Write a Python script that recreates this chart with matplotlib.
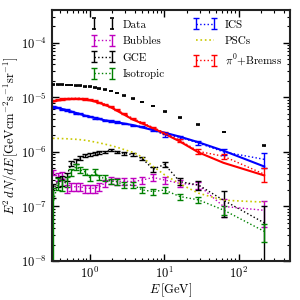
import matplotlib
matplotlib.use("Agg")
import matplotlib.pyplot as plt
import numpy as np

plt.rcParams.update({
    "font.family": "serif",
    "font.serif": ["cmr10"],
    "mathtext.fontset": "cm",
    "axes.formatter.use_mathtext": True,
    "font.size": 9,
    "xtick.direction": "in",
    "ytick.direction": "in",
    "xtick.top": True,
    "ytick.right": True,
})

# energy bin centres [GeV]
energy = [0.32, 0.37, 0.43, 0.49, 0.56, 0.65, 0.75, 0.87, 1.0, 1.16, 1.35, 1.58,
          1.9, 2.3, 2.9, 3.8, 5.1, 7.1, 10.1, 16.2, 28.8, 62.5, 220]

# measured flux
data = [1.70e-5, 1.70e-5, 1.70e-5, 1.69e-5, 1.68e-5, 1.66e-5, 1.63e-5, 1.60e-5,
        1.56e-5, 1.52e-5, 1.47e-5, 1.40e-5, 1.30e-5, 1.20e-5, 1.08e-5, 9.5e-6,
        8.2e-6, 6.9e-6, 5.5e-6, 4.25e-6, 3.2e-6, 2.3e-6, 1.3e-6]
data_rel = [0.015] * 23

# fitted components
bubbles = [4.2e-7, 3.5e-7, 3.75e-7, 2.15e-7, 2.3e-7, 2.3e-7, 2.3e-7, 2.15e-7,
           2.15e-7, 2.15e-7, 2.3e-7, 2.65e-7, 3.05e-7, 2.85e-7, 2.9e-7, 2.85e-7,
           3.05e-7, 3.4e-7, 3.05e-7, 2.65e-7, 2.47e-7, 1.0e-7, 8.5e-8]
bubbles_rel = [0.1, 0.15, 0.15, 0.17, 0.17, 0.17, 0.17, 0.17, 0.17, 0.17, 0.15,
               0.15, 0.15, 0.15, 0.15, 0.15, 0.15, 0.15, 0.15, 0.15, 0.15, 0.35, 0.5]

gce = [2.0e-7, 2.85e-7, 3.0e-7, 3.5e-7, 6.1e-7, 6.6e-7, 7.8e-7, 8.7e-7,
       9.0e-7, 9.35e-7, 9.8e-7, 1.0e-6, 1.07e-6, 1.0e-6, 9.35e-7, 8.9e-7,
       7.5e-7, 4.8e-7, 5.9e-7, 2.85e-7, 2.47e-7, 1.3e-7, 5.0e-8]
gce_rel = [0.3, 0.2, 0.2, 0.18, 0.1, 0.1, 0.08, 0.07, 0.06, 0.06, 0.05, 0.05,
           0.05, 0.05, 0.05, 0.06, 0.07, 0.1, 0.12, 0.15, 0.18, 0.5, 1.0]

isotropic = [1.1e-7, 2.65e-7, 2.47e-7, 2.85e-7, 4.3e-7, 5.3e-7, 4.65e-7, 4.3e-7,
             3.4e-7, 4.3e-7, 3.4e-7, 3.3e-7, 2.9e-7, 2.85e-7, 2.47e-7, 2.47e-7,
             2.0e-7, 1.88e-7, 2.0e-7, 1.52e-7, 1.32e-7, 8.6e-8, 3.5e-8]
isotropic_rel = [1.0, 0.25, 0.22, 0.2, 0.15, 0.13, 0.13, 0.13, 0.13, 0.12, 0.12,
                 0.12, 0.12, 0.12, 0.12, 0.12, 0.12, 0.12, 0.12, 0.12, 0.12, 0.2, 0.35]

ics = [6.6e-6, 6.5e-6, 6.0e-6, 5.9e-6, 5.5e-6, 5.1e-6, 5.0e-6, 4.6e-6, 4.5e-6,
       4.2e-6, 4.1e-6, 3.8e-6, 3.7e-6, 3.5e-6, 3.3e-6, 3.05e-6, 2.9e-6, 2.5e-6,
       2.05e-6, 1.85e-6, 1.45e-6, 1.0e-6, 7.3e-7]
ics_rel = [0.03] * 17 + [0.05, 0.07, 0.07, 0.09, 0.12, 0.3]

pion = [8.6e-6, 9.0e-6, 9.3e-6, 9.5e-6, 9.6e-6, 9.6e-6, 9.6e-6, 9.3e-6, 9.0e-6,
        8.6e-6, 8.1e-6, 7.5e-6, 6.8e-6, 5.9e-6, 5.0e-6, 4.1e-6, 3.4e-6, 2.8e-6,
        2.25e-6, 1.63e-6, 1.02e-6, 8.3e-7, 3.9e-7]
pion_rel = [0.025] * 17 + [0.04, 0.05, 0.07, 0.09, 0.12, 0.28]

pscs = [1.77e-6, 1.76e-6, 1.75e-6, 1.74e-6, 1.72e-6, 1.70e-6, 1.67e-6, 1.63e-6,
        1.58e-6, 1.52e-6, 1.46e-6, 1.39e-6, 1.31e-6, 1.22e-6, 1.10e-6, 9.8e-7,
        8.0e-7, 5.4e-7, 3.8e-7, 2.6e-7, 1.75e-7, 1.3e-7, 1.2e-7]

# model curves
ics_model = [6.7e-6, 6.4e-6, 6.1e-6, 5.8e-6, 5.5e-6, 5.2e-6, 4.9e-6, 4.6e-6,
             4.4e-6, 4.2e-6, 4.0e-6, 3.8e-6, 3.65e-6, 3.5e-6, 3.3e-6, 3.1e-6,
             2.8e-6, 2.5e-6, 2.25e-6, 1.9e-6, 1.5e-6, 1.05e-6, 5.4e-7]
pion_model = [8.3e-6, 8.7e-6, 9.0e-6, 9.2e-6, 9.3e-6, 9.35e-6, 9.3e-6, 9.1e-6,
              8.8e-6, 8.4e-6, 7.9e-6, 7.3e-6, 6.6e-6, 5.7e-6, 4.8e-6, 3.9e-6,
              3.3e-6, 2.7e-6, 2.15e-6, 1.55e-6, 9.8e-7, 6.3e-7, 3.7e-7]


def yerr(vals, rel):
    return np.array(vals) * np.array(rel)


fig, ax = plt.subplots(figsize=(3, 3), dpi=100)
fig.subplots_adjust(left=0.173, right=0.967, bottom=0.13, top=0.967)

eb = dict(elinewidth=1, capsize=2, capthick=1)
h = {}
h["Data"] = ax.errorbar(energy, data, yerr=yerr(data, data_rel), fmt="none",
                        ecolor="k", elinewidth=1, capsize=1.6, capthick=1.2, zorder=5)
h["Bubbles"] = ax.errorbar(energy, bubbles, yerr=yerr(bubbles, bubbles_rel),
                           color="m", ls=":", lw=1, **eb)
h["GCE"] = ax.errorbar(energy, gce, yerr=yerr(gce, gce_rel), color="k", ls=":", lw=1, **eb)
h["Isotropic"] = ax.errorbar(energy, isotropic, yerr=yerr(isotropic, isotropic_rel),
                             color="g", ls=":", lw=1, **eb)
h["ICS"] = ax.errorbar(energy, ics, yerr=yerr(ics, ics_rel), color="b", ls=":", lw=1, **eb)
h["PSCs"], = ax.plot(energy, pscs, color="#c8c800", ls=":", lw=1.2)
h["pion"] = ax.errorbar(energy, pion, yerr=yerr(pion, pion_rel), color="r", ls=":", lw=1, **eb)

ax.plot(energy, ics_model, color="b", lw=1.5)
ax.plot(energy, pion_model, color="r", lw=1.5)

ax.set_xscale("log")
ax.set_yscale("log")
ax.set_xlim(0.31, 490)
ax.set_ylim(1e-8, 4e-4)
ax.set_xlabel(r"$E\,[\mathrm{GeV}]$", labelpad=0)
ax.set_ylabel(r"$E^2\,dN/dE\,[\mathrm{GeV cm^{-2}s^{-1}sr^{-1}}]$", labelpad=1)

ax.tick_params(which="major", length=5, width=1)
ax.tick_params(which="minor", length=2.5, width=0.8)
for spine in ax.spines.values():
    spine.set_linewidth(1.5)
    spine.set_color("#222222")

handles = [h["Data"], h["Bubbles"], h["GCE"], h["Isotropic"], h["ICS"], h["PSCs"], h["pion"]]
labels = ["Data", "Bubbles", "GCE", "Isotropic", "ICS", "PSCs", r"$\pi^0$+Bremss"]
ax.legend(handles, labels, ncol=2, frameon=False, loc="upper left",
          bbox_to_anchor=(0.12, 1.0), fontsize=8, numpoints=2, handlelength=2.2,
          columnspacing=2.5, handletextpad=0.7, labelspacing=0.6)

fig.savefig("out.png", dpi=100)
